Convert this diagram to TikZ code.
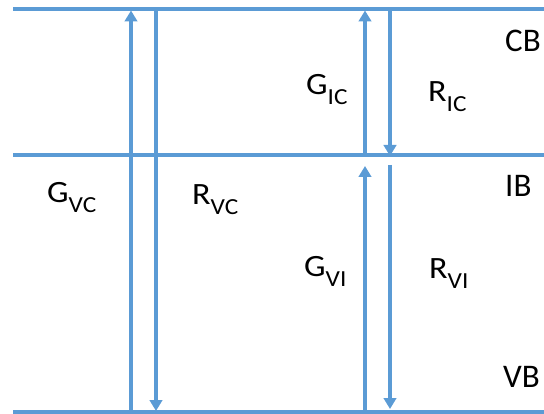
\documentclass[tikz,border=0pt]{standalone}
\usepackage{fontspec}
\setmainfont{Carlito}
\usetikzlibrary{arrows.meta}
\definecolor{bandblue}{RGB}{91,155,213}
\newcommand{\rate}[2]{\scalebox{1.1}[1]{#1\raisebox{-0.3em}{\fontsize{23}{23}\selectfont #2}}}

\begin{document}
\begin{tikzpicture}[x=1pt,y=-1pt,
    band/.style={bandblue,line width=3.6pt},
    trans/.style={bandblue,line width=3.6pt,-{Triangle[length=11pt,width=12.5pt]}},
    lbl/.style={inner sep=0pt,anchor=base west,font=\fontsize{31}{31}\selectfont},
    bandlbl/.style={inner sep=0pt,anchor=base west,font=\fontsize{33}{33}\selectfont}]
    \useasboundingbox (0,0) rectangle (544,414);

    % Band edges
    \coordinate (cbl) at (13,9);   \coordinate (cbr) at (544,9);
    \coordinate (ibl) at (13,155); \coordinate (ibr) at (544,155);
    \coordinate (vbl) at (13,412); \coordinate (vbr) at (544,412);
    \draw[band] (cbl) -- (cbr);
    \draw[band] (ibl) -- (ibr);
    \draw[band] (vbl) -- (vbr);

    % Ends of the transitions
    \coordinate (gvc0) at (131,412); \coordinate (gvc1) at (131,10.5);
    \coordinate (rvc0) at (156,9);   \coordinate (rvc1) at (156,411);
    \coordinate (gic0) at (365,155); \coordinate (gic1) at (365,10.5);
    \coordinate (ric0) at (390,9);   \coordinate (ric1) at (390,156);
    \coordinate (gvi0) at (365,412); \coordinate (gvi1) at (365,166);
    \coordinate (rvi0) at (390,165); \coordinate (rvi1) at (390,409);

    % Transitions
    \draw[trans] (gvc0) -- (gvc1);
    \draw[trans] (rvc0) -- (rvc1);
    \draw[trans] (gic0) -- (gic1);
    \draw[trans] (ric0) -- (ric1);
    \draw[trans] (gvi0) -- (gvi1);
    \draw[trans] (rvi0) -- (rvi1);

    % Labels
    \node[lbl] (Gvc) at (47,203) {\rate{G}{VC}};
    \node[lbl] (Rvc) at (192,205) {\rate{R}{VC}};
    \node[lbl] (Gic) at (306,95) {\rate{G}{IC}};
    \node[lbl] (Ric) at (428,102) {\rate{R}{IC}};
    \node[lbl] (Gvi) at (304,277) {\rate{G}{VI}};
    \node[lbl] (Rvi) at (429,279) {\rate{R}{VI}};
    \node[bandlbl] (CB) at (505,52) {CB};
    \node[bandlbl] (IB) at (505,197) {IB};
    \node[bandlbl] (VB) at (503,388) {VB};
\end{tikzpicture}
\end{document}
